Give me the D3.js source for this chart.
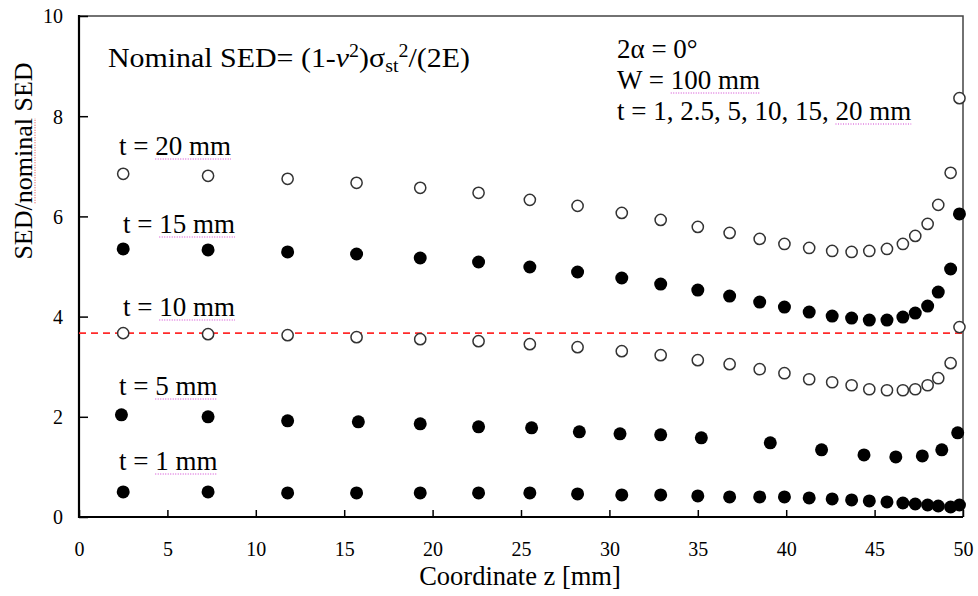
<!DOCTYPE html>
<html>
<head>
<meta charset="utf-8">
<script src="https://cdn.jsdelivr.net/npm/d3@7"></script>
<style>
  html, body { margin: 0; padding: 0; background: #fff; }
  svg text { font-family: "Liberation Serif", "Times New Roman", serif; fill: #000; }
</style>
</head>
<body>
<svg id="chart" width="978" height="596"></svg>
<script>
// ---- data ----
const zMain = [2.5, 7.3, 11.8, 15.7, 19.3, 22.6, 25.5, 28.2, 30.7, 32.9, 35.0, 36.8, 38.5,
               39.9, 41.3, 42.6, 43.7, 44.7, 45.7, 46.6, 47.3, 48.0, 48.6, 49.3, 49.8];
const zT5 = [2.4, 7.3, 11.8, 15.8, 19.3, 22.6, 25.6, 28.3, 30.6, 32.9, 35.2, 39.1, 42.0,
             44.4, 46.2, 47.7, 48.8, 49.7];
const t20 = [6.85, 6.81, 6.75, 6.67, 6.57, 6.47, 6.33, 6.21, 6.07, 5.93, 5.79, 5.67, 5.55,
             5.45, 5.37, 5.31, 5.29, 5.31, 5.35, 5.45, 5.61, 5.85, 6.23, 6.87, 8.36];
const t15 = [5.35, 5.33, 5.29, 5.25, 5.17, 5.09, 4.99, 4.89, 4.77, 4.65, 4.53, 4.41, 4.29,
             4.19, 4.09, 4.01, 3.97, 3.93, 3.93, 3.99, 4.07, 4.21, 4.49, 4.95, 6.05];
const t10 = [3.67, 3.65, 3.63, 3.59, 3.55, 3.51, 3.45, 3.39, 3.31, 3.23, 3.13, 3.05, 2.95,
             2.87, 2.75, 2.69, 2.63, 2.55, 2.53, 2.53, 2.55, 2.63, 2.77, 3.07, 3.79];
const t5  = [2.04, 2.00, 1.92, 1.90, 1.86, 1.80, 1.78, 1.70, 1.66, 1.64, 1.58, 1.48, 1.34,
             1.24, 1.20, 1.22, 1.34, 1.68];
const t1  = [0.50, 0.50, 0.48, 0.48, 0.48, 0.48, 0.48, 0.46, 0.44, 0.44, 0.42, 0.40, 0.40,
             0.40, 0.38, 0.36, 0.34, 0.32, 0.30, 0.28, 0.26, 0.24, 0.22, 0.20, 0.24];
const refLine = 3.67;
const xTicks = [0, 5, 10, 15, 20, 25, 30, 35, 40, 45, 50];
const yTicks = [0, 2, 4, 6, 8, 10];
const xTitle = "Coordinate z [mm]";
const yTitle = ["SED/", "nominal", " SED"];

// ---- layout ----
const svg = d3.select("#chart");
const L = 79, R = 963, T = 16, B = 517;
const x = d3.scaleLinear().domain([0, 50]).range([L, R]);
const y = d3.scaleLinear().domain([0, 10]).range([B, T]);

// frame (top/right)
svg.append("path")
  .attr("d", `M${L},${T}H${R}V${B}`)
  .attr("fill", "none").attr("stroke", "#444").attr("stroke-width", 1.5);

// axes
const xAxis = svg.append("g").attr("transform", `translate(0,${B})`)
  .call(d3.axisBottom(x).tickValues(xTicks).tickSize(-7).tickPadding(0).tickFormat(d3.format("d")));
xAxis.select(".domain").remove();
xAxis.selectAll("line").attr("stroke", "#000").attr("stroke-width", 1.5);
xAxis.selectAll("text").attr("font-size", 20).attr("dy", null).attr("y", 39)
  .attr("font-family", "Liberation Serif");

const yAxis = svg.append("g").attr("transform", `translate(${L},0)`)
  .call(d3.axisLeft(y).tickValues(yTicks).tickSize(-9).tickPadding(0).tickFormat(d3.format("d")));
yAxis.select(".domain").remove();
yAxis.selectAll("line").attr("stroke", "#000").attr("stroke-width", 1.5);
yAxis.selectAll("text").attr("font-size", 20).attr("x", -16).attr("dy", "0.34em")
  .attr("font-family", "Liberation Serif");

svg.append("line").attr("x1", L).attr("x2", L).attr("y1", T - 1).attr("y2", B + 1)
  .attr("stroke", "#000").attr("stroke-width", 2.2);
svg.append("line").attr("x1", L - 1).attr("x2", R).attr("y1", B).attr("y2", B)
  .attr("stroke", "#000").attr("stroke-width", 2.2);

// reference dashed line
svg.append("line")
  .attr("x1", L).attr("x2", R).attr("y1", y(refLine)).attr("y2", y(refLine))
  .attr("stroke", "#ff2a2a").attr("stroke-width", 1.8).attr("stroke-dasharray", "7,5");

// markers
function filled(zs, vs) {
  svg.append("g").selectAll("circle").data(vs).join("circle")
    .attr("cx", (d, i) => x(zs[i])).attr("cy", d => y(d)).attr("r", 6.5).attr("fill", "#000");
}
function open(zs, vs) {
  svg.append("g").selectAll("circle").data(vs).join("circle")
    .attr("cx", (d, i) => x(zs[i])).attr("cy", d => y(d)).attr("r", 5.6)
    .attr("fill", "#fff").attr("stroke", "#333").attr("stroke-width", 1.5);
}
open(zMain, t20);
filled(zMain, t15);
open(zMain, t10);
filled(zT5, t5);
filled(zMain, t1);

// text helpers
function squiggle(node, color) {
  const bb = node.getBBox();
  const ctm = node.getCTM();
  const x1 = bb.x * ctm.a + ctm.e, x2 = (bb.x + bb.width) * ctm.a + ctm.e;
  const yy = (bb.y + bb.height - 2) * ctm.d + ctm.f;
  svg.append("line").attr("x1", x1).attr("x2", x2).attr("y1", yy).attr("y2", yy)
    .attr("stroke", color).attr("stroke-width", 1).attr("stroke-dasharray", "1,1.5");
}
function label(xp, yp, pre, under, size) {
  const t = svg.append("text").attr("x", xp).attr("y", yp).attr("font-size", size);
  t.append("tspan").text(pre);
  return t.append("tspan").text(under).node();
}

// series labels
const seriesLabels = [
  {x: 119, y: 155, n: "20"},
  {x: 123, y: 233, n: "15"},
  {x: 123, y: 316, n: "10"},
  {x: 119, y: 395, n: "5"},
  {x: 119, y: 470, n: "1"}
];
const unders = [];
seriesLabels.forEach(s => unders.push(label(s.x, s.y, "t = ", s.n + " mm", 27)));

// annotation: nominal SED formula (stretched horizontally to match)
const f = svg.append("text").attr("x", 0).attr("y", 0).attr("font-size", 27);
f.append("tspan").text("Nominal SED= (1-");
f.append("tspan").attr("font-style", "italic").text("ν");
f.append("tspan").attr("font-size", 18).attr("dy", -10).text("2");
f.append("tspan").attr("dy", 10).text(")σ");
f.append("tspan").attr("font-size", 18).attr("dy", 5).text("st");
f.append("tspan").attr("font-size", 18).attr("dy", -15).text("2");
f.append("tspan").attr("dy", 10).text("/(2E)");
{
  const w = f.node().getBBox().width;
  f.attr("transform", `translate(108,67) scale(${362 / w},1)`);
}

// right annotation
svg.append("text").attr("x", 617).attr("y", 58).attr("font-size", 27).text("2α = 0°");
unders.push(label(617, 89, "W = ", "100 mm", 27));
unders.push(label(617, 120, "t = 1, 2.5, 5, 10, 15, ", "20 mm", 27));

unders.forEach(n => squiggle(n, "#d040d0"));

// axis titles
svg.append("text").attr("x", (L + R) / 2 - 1).attr("y", 585)
  .attr("text-anchor", "middle").attr("font-size", 26.5).text(xTitle);
const yt = svg.append("text").attr("transform", "translate(32,161) rotate(-90)")
  .attr("text-anchor", "middle").attr("font-size", 26);
yt.append("tspan").text(yTitle[0]);
const yNom = yt.append("tspan").text(yTitle[1]);
yt.append("tspan").text(yTitle[2]);
{
  const n = yNom.node();
  const s = n.getStartPositionOfChar(0), e = n.getEndPositionOfChar(n.getNumberOfChars() - 1);
  const g = svg.append("g").attr("transform", "translate(32,161) rotate(-90)");
  g.append("line").attr("x1", s.x).attr("x2", e.x).attr("y1", 3).attr("y2", 3)
    .attr("stroke", "#e04040").attr("stroke-width", 1).attr("stroke-dasharray", "1,1.5");
}
</script>
</body>
</html>
